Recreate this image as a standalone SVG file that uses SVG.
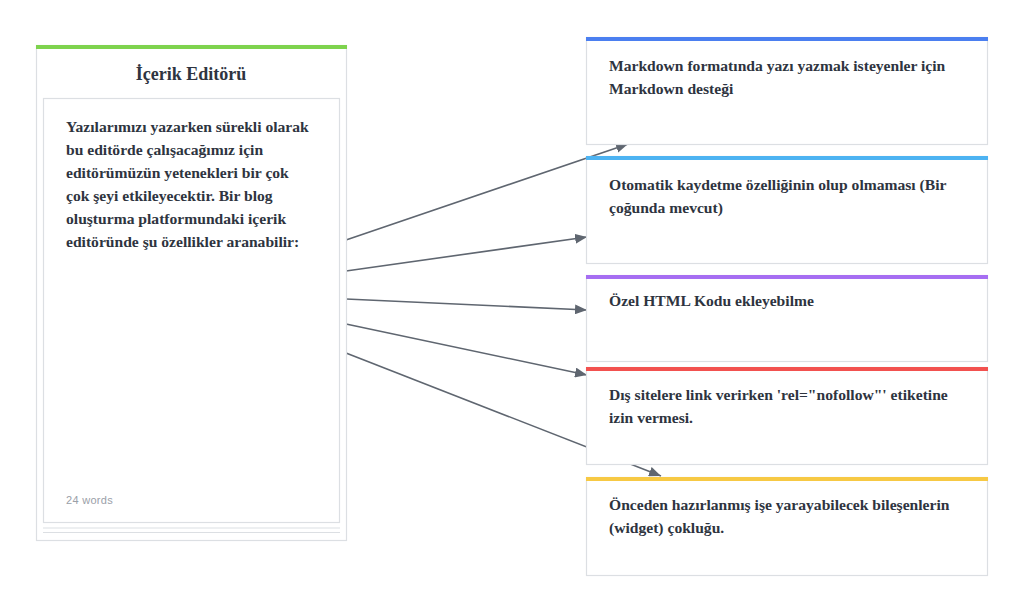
<svg xmlns="http://www.w3.org/2000/svg" width="1024" height="613" viewBox="0 0 1024 613">
<defs>
<style>
.box{fill:#fff;stroke:#dcdfe3;stroke-width:1.2}
.t{font-family:"Liberation Serif","DejaVu Serif",serif;font-weight:bold;font-size:15.6px;fill:#2e3440}
.title{font-family:"Liberation Serif","DejaVu Serif",serif;font-weight:bold;font-size:18px;fill:#2e3440}
.muted{font-family:"Liberation Sans",Arial,sans-serif;font-size:11px;fill:#9aa0a8;letter-spacing:0.3px}
.edge{fill:none;stroke:#5f6670;stroke-width:1.6;marker-end:url(#ah)}
</style>
<marker id="ah" viewBox="0 0 12 10" refX="12" refY="5" markerWidth="12" markerHeight="10" markerUnits="userSpaceOnUse" orient="auto">
<path d="M0,0 L12,5 L0,10 z" fill="#5f6670"/>
</marker>
</defs>
<rect width="1024" height="613" fill="#fff"/>
<g id="connectors">
<line class="edge" x1="346" y1="240" x2="628" y2="144"/>
<line class="edge" x1="346" y1="271" x2="587" y2="237"/>
<line class="edge" x1="346" y1="299" x2="587" y2="310"/>
<line class="edge" x1="346" y1="324" x2="587" y2="375"/>
<line class="edge" x1="346" y1="353" x2="661" y2="476"/>
</g>
<g id="editor">
<rect class="box" x="36.5" y="45.5" width="310" height="495"/>
<rect x="36" y="45" width="311" height="4" fill="#7ed34e"/>
<text class="title" x="191" y="80" text-anchor="middle">İçerik Editörü</text>
<line x1="43" y1="532.5" x2="340" y2="532.5" stroke="#dcdfe3" stroke-width="1.2"/>
<line x1="43" y1="528" x2="340" y2="528" stroke="#dcdfe3" stroke-width="1.2"/>
<rect class="box" x="43.5" y="98.5" width="296" height="424"/>
<text class="t" x="66" y="132">Yazılarımızı yazarken sürekli olarak</text>
<text class="t" x="66" y="155">bu editörde çalışacağımız için</text>
<text class="t" x="66" y="178">editörümüzün yetenekleri bir çok</text>
<text class="t" x="66" y="201">çok şeyi etkileyecektir. Bir blog</text>
<text class="t" x="66" y="224">oluşturma platformundaki içerik</text>
<text class="t" x="66" y="247">editöründe şu özellikler aranabilir:</text>
<text class="muted" x="66" y="504">24 words</text>
</g>
<g id="f1">
<rect class="box" x="586.5" y="37.5" width="401" height="107"/>
<rect x="586" y="37" width="402" height="4" fill="#4b7ff0"/>
<text class="t" x="609" y="71">Markdown formatında yazı yazmak isteyenler için</text>
<text class="t" x="609" y="94">Markdown desteği</text>
</g>
<g id="f2">
<rect class="box" x="586.5" y="156.5" width="401" height="107"/>
<rect x="586" y="156" width="402" height="4" fill="#4db3f2"/>
<text class="t" x="609" y="190">Otomatik kaydetme özelliğinin olup olmaması (Bir</text>
<text class="t" x="609" y="213">çoğunda mevcut)</text>
</g>
<g id="f3">
<rect class="box" x="586.5" y="275.5" width="401" height="86"/>
<rect x="586" y="275" width="402" height="4" fill="#a66ef2"/>
<text class="t" x="609" y="306">Özel HTML Kodu ekleyebilme</text>
</g>
<g id="f4">
<rect class="box" x="586.5" y="367.5" width="401" height="97"/>
<rect x="586" y="367" width="402" height="4" fill="#f2514f"/>
<text class="t" x="609" y="400">Dış sitelere link verirken 'rel="nofollow"' etiketine</text>
<text class="t" x="609" y="423">izin vermesi.</text>
</g>
<g id="f5">
<rect class="box" x="586.5" y="477.5" width="401" height="98"/>
<rect x="586" y="477" width="402" height="4" fill="#f7c944"/>
<text class="t" x="609" y="510">Önceden hazırlanmış işe yarayabilecek bileşenlerin</text>
<text class="t" x="609" y="533">(widget) çokluğu.</text>
</g>
</svg>
